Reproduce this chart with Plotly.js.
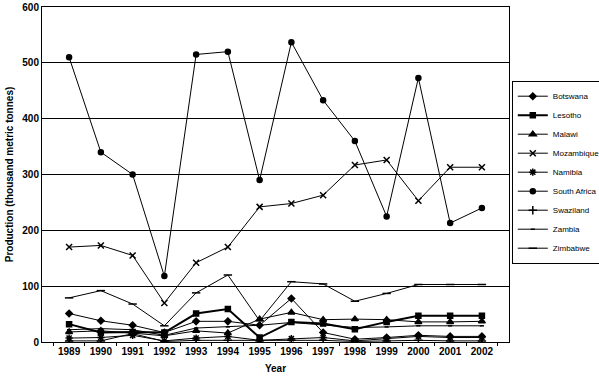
<!DOCTYPE html>
<html>
<head>
<meta charset="utf-8">
<script src="https://cdn.plot.ly/plotly-3.0.1.min.js"></script>
<style>
html,body{margin:0;padding:0;background:#fff;}
#chart{width:599px;height:378px;}
</style>
</head>
<body>
<div id="chart"></div>
<script>
const years = ["1989","1990","1991","1992","1993","1994","1995","1996","1997","1998","1999","2000","2001","2002"];
const botswana    = [51, 38, 30, 17, 37, 37, 30, 78, 17, 5, 8, 12, 10, 10];
const lesotho     = [32, 17, 18, 17, 51, 59, 8, 36, 33, 23, 36, 47, 47, 47];
const malawi      = [18, 20, 16, 11, 20, 16, 41, 53, 40, 41, 40, 36, 36, 37];
const mozambique  = [170, 173, 155, 70, 142, 170, 242, 248, 263, 317, 326, 253, 313, 313];
const namibia     = [7, 8, 12, 2, 7, 10, 3, 6, 8, 2, 6, 10, 8, 8];
const southAfrica = [510, 340, 300, 118, 515, 520, 290, 537, 433, 360, 225, 473, 213, 240];
const swaziland   = [2, 2, 15, 1, 3, 3, 2, 3, 3, 1, 2, 3, 2, 2];
const zambia      = [22, 24, 22, 12, 25, 27, 30, 35, 31, 26, 27, 29, 29, 29];
const zimbabwe    = [79, 92, 68, 29, 88, 120, 38, 108, 104, 73, 87, 103, 103, 103];

const series = [
  {name:"Botswana", y:botswana, sym:"diamond", size:5, w:1},
  {name:"Lesotho", y:lesotho, sym:"square", size:5, w:2},
  {name:"Malawi", y:malawi, sym:"triangle-up", size:6, w:1},
  {name:"Mozambique", y:mozambique, sym:"x-thin-open", size:6, w:1},
  {name:"Namibia", y:namibia, sym:"asterisk-open", size:6, w:1},
  {name:"South Africa", y:southAfrica, sym:"circle", size:5, w:1},
  {name:"Swaziland", y:swaziland, sym:"cross-thin-open", size:6, w:1},
  {name:"Zambia", y:zambia, sym:"line-ew-open", size:3, w:1},
  {name:"Zimbabwe", y:zimbabwe, sym:"line-ew-open", size:6, w:1}
];

const traces = series.map(s => ({
  type:"scatter", mode:"lines+markers", name:s.name, x:years, y:s.y,
  line:{color:"#000", width:s.w},
  marker:{symbol:s.sym, size:s.size, color:"#000", line:{color:"#000", width:1.5}}
}));

const fnt = {family:"Liberation Sans, Arial, sans-serif", size:10, color:"#000", weight:"bold"};

const layout = {
  width:599, height:378,
  margin:{l:42, r:90, t:7, b:36, autoexpand:false},
  paper_bgcolor:"#fff", plot_bgcolor:"#fff",
  showlegend:true,
  font:fnt,
  xaxis:{
    type:"category", showgrid:false, zeroline:false,
    showline:true, linecolor:"#000", linewidth:1, mirror:true,
    ticks:"outside", ticklen:3, tickcolor:"#000", tickson:"boundaries",
    tickangle:0, tickfont:fnt, automargin:false,
    title:{text:"Year", font:fnt, standoff:8}
  },
  yaxis:{
    range:[0,600], dtick:100, showgrid:true, gridcolor:"#000", gridwidth:1,
    zeroline:false, showline:true, linecolor:"#000", linewidth:1, mirror:true,
    ticks:"", tickfont:fnt, automargin:false,
    title:{text:"Production (thousand metric tonnes)", font:fnt, standoff:6}
  },
  legend:{
    x:1.006, y:0.78, xanchor:"left", yanchor:"top",
    bordercolor:"#000", borderwidth:1, bgcolor:"#fff",
    font:{family:"Liberation Sans Narrow, Liberation Sans, Arial, sans-serif", size:8, color:"#000", weight:"normal"},
    itemwidth:30, tracegroupgap:0
  }
};

Plotly.newPlot("chart", traces, layout, {displayModeBar:false, staticPlot:true});
</script>
</body>
</html>
